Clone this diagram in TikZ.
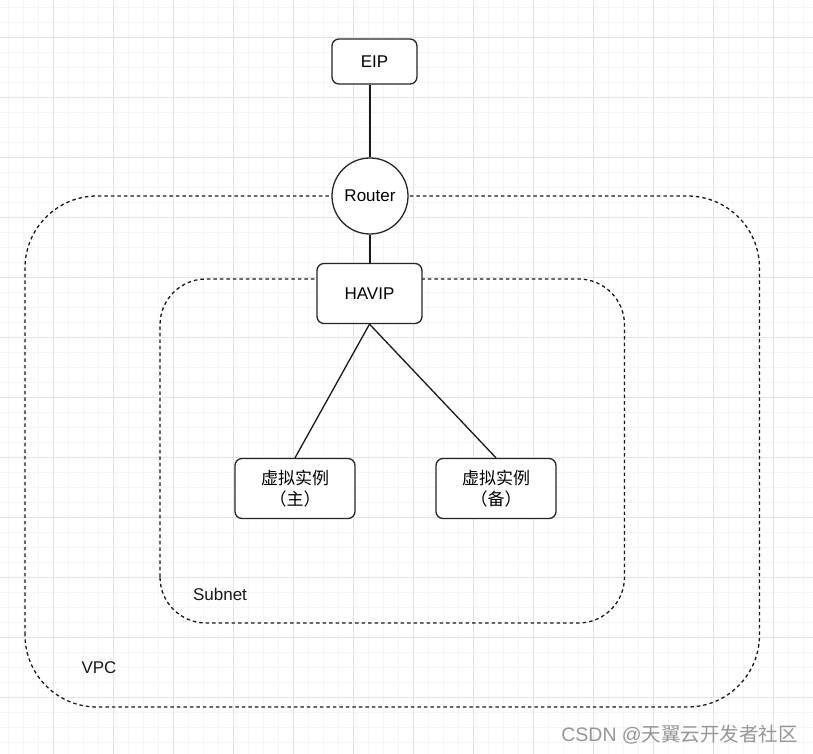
\documentclass[tikz,border=0pt]{standalone}
\usepackage{fontspec}
\setmainfont{Liberation Sans}
\newfontfamily\cjk{Noto Sans CJK SC}
\definecolor{gridmajor}{RGB}{228,228,228}
\definecolor{gridminor}{RGB}{245,245,245}
\definecolor{wmgray}{RGB}{150,150,150}
\begin{document}
\begin{tikzpicture}[x=1pt,y=1pt,
  box/.style={draw=black!85,line width=1.3pt,fill=white,rounded corners=7pt,align=center,inner sep=0pt,font=\fontsize{17}{22}\selectfont},
  zone/.style={draw=black!90,line width=1.3pt,dash pattern=on 3.5pt off 3pt,rounded corners},
  link/.style={draw=black!90,line width=1.3pt},
  lbl/.style={font=\fontsize{17}{20}\selectfont,text=black!90,inner sep=0pt}]
\useasboundingbox (0,0) rectangle (813,754);
\fill[white] (0,0) rectangle (813,754);
% grid
\foreach \k in {0,...,54} {\draw[gridminor,line width=0.8pt] ({8.3+15*\k},0) -- ({8.3+15*\k},754);}
\foreach \k in {0,...,50} {\draw[gridminor,line width=0.8pt] (0,{11.3+15*\k}) -- (813,{11.3+15*\k});}
\foreach \k in {0,...,12} {\draw[gridmajor,line width=0.9pt] ({53.3+60*\k},0) -- ({53.3+60*\k},754);}
\foreach \k in {0,...,11} {\draw[gridmajor,line width=0.9pt] (0,{56.3+60*\k}) -- (813,{56.3+60*\k});}
% zones
\draw[zone,rounded corners=72pt] (25,47) rectangle (759.5,558);
\draw[zone,rounded corners=46pt] (160,131) rectangle (624.5,475);
\node[lbl] (subnetlbl) at (220,160) {Subnet};
\node[lbl] (vpclbl) at (99,86) {VPC};
% nodes
\node[box,minimum width=85pt,minimum height=45pt] (EIP) at (374.5,692.5) {EIP};
\node[draw=black!85,line width=1.3pt,fill=white,circle,minimum size=76pt,inner sep=0pt,font=\fontsize{17}{20}\selectfont] (Router) at (370,558) {Router};
\node[box,minimum width=105pt,minimum height=60pt] (HAVIP) at (369.5,460.5) {HAVIP};
\node[box,minimum width=120pt,minimum height=60pt] (inst1) at (295,265.5) {{\cjk 虚拟实例}\\[-1pt]{\cjk （主）}};
\node[box,minimum width=120pt,minimum height=60pt] (inst2) at (496,265.5) {{\cjk 虚拟实例}\\[-1pt]{\cjk （备）}};
% links
\draw[link] (Router.north) -- (Router.north |- EIP.south);
\draw[link] (Router.south) -- (HAVIP.north -| Router.south);
\draw[link] (HAVIP.south) -- (inst1.north);
\draw[link] (HAVIP.south) -- (inst2.north);
% watermark
\node[anchor=east,inner sep=0pt,text=wmgray,font=\fontsize{19.5}{22}\selectfont] (wm) at (798,19.5) {CSDN @{\cjk 天翼云开发者社区}};
\end{tikzpicture}
\end{document}
